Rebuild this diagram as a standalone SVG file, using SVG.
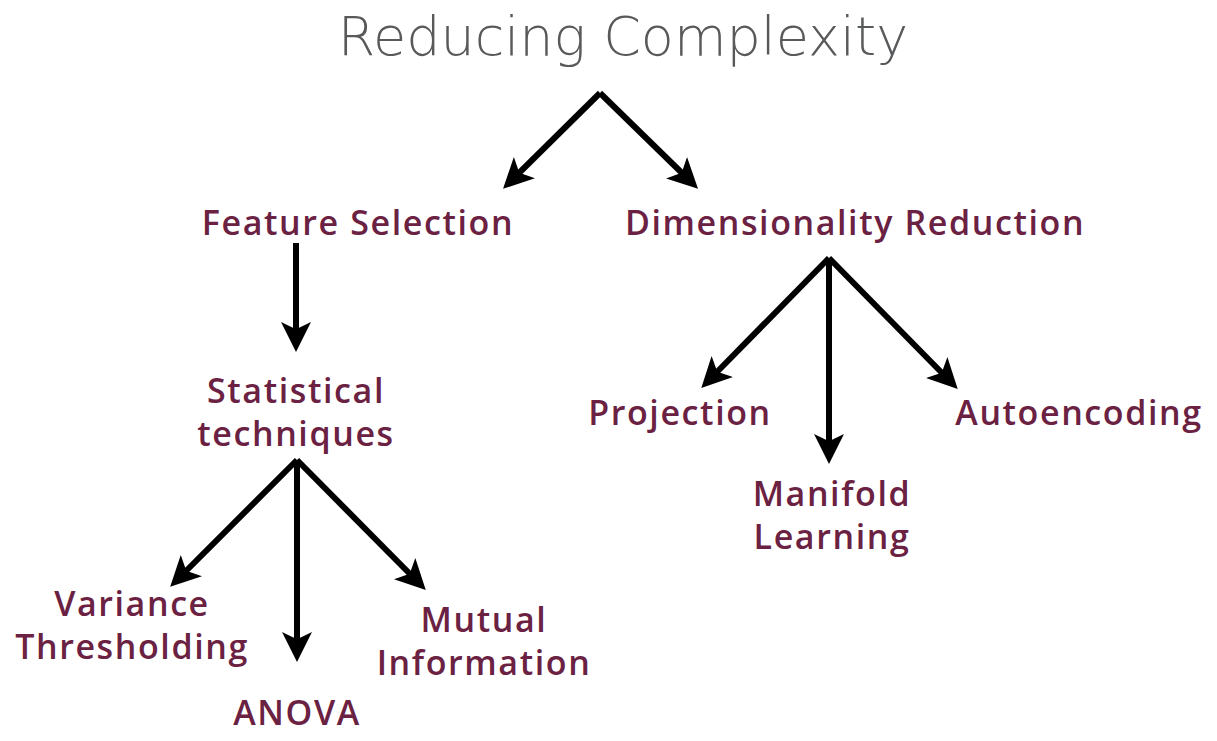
<svg xmlns="http://www.w3.org/2000/svg" width="1217" height="741" viewBox="0 0 1217 741">
<style>
.t{font-family:"DejaVu Sans","Lato",sans-serif;font-weight:200;font-size:54px;fill:#58595b;text-anchor:middle}
.n{font-family:"Open Sans","Liberation Sans",sans-serif;font-weight:600;font-size:34px;letter-spacing:1.6px;fill:#6b2142;text-anchor:middle}
.c line{stroke:#000;stroke-width:6;marker-end:url(#ah)}
</style>
<defs>
<marker id="ah" viewBox="0 -3 6 6" refX="1.5" refY="0" markerWidth="6" markerHeight="6" orient="auto" markerUnits="strokeWidth">
<path d="M0,-2.5 L5,0 L0,2.5 L1.2,0 z" fill="#000"/>
</marker>
</defs>
<rect width="1217" height="741" fill="#fff"/>
<g id="title"><text class="t" x="623" y="55">Reducing Complexity</text></g>
<g id="feature-selection"><text class="n" x="358" y="235">Feature Selection</text></g>
<g id="dimensionality-reduction"><text class="n" x="855" y="235">Dimensionality Reduction</text></g>
<g id="statistical-techniques"><text class="n" x="296" y="403">Statistical</text><text class="n" x="296" y="446">techniques</text></g>
<g id="variance-thresholding"><text class="n" x="132" y="616">Variance</text><text class="n" x="132" y="659">Thresholding</text></g>
<g id="anova"><text class="n" x="297" y="725">ANOVA</text></g>
<g id="mutual-information"><text class="n" x="484" y="632">Mutual</text><text class="n" x="484" y="675">Information</text></g>
<g id="projection"><text class="n" x="680" y="425">Projection</text></g>
<g id="manifold-learning"><text class="n" x="832" y="506">Manifold</text><text class="n" x="832" y="549">Learning</text></g>
<g id="autoencoding"><text class="n" x="1079" y="425">Autoencoding</text></g>
<g class="c" id="connectors">
<line x1="600" y1="93" x2="518" y2="174"/>
<line x1="600" y1="93" x2="683" y2="174"/>
<line x1="296" y1="243" x2="296" y2="331"/>
<line x1="297" y1="460" x2="185" y2="572"/>
<line x1="297" y1="460" x2="297" y2="641"/>
<line x1="297" y1="460" x2="411" y2="575"/>
<line x1="829" y1="258" x2="716" y2="373"/>
<line x1="829" y1="258" x2="829" y2="443"/>
<line x1="829" y1="258" x2="943" y2="374"/>
</g>
</svg>
